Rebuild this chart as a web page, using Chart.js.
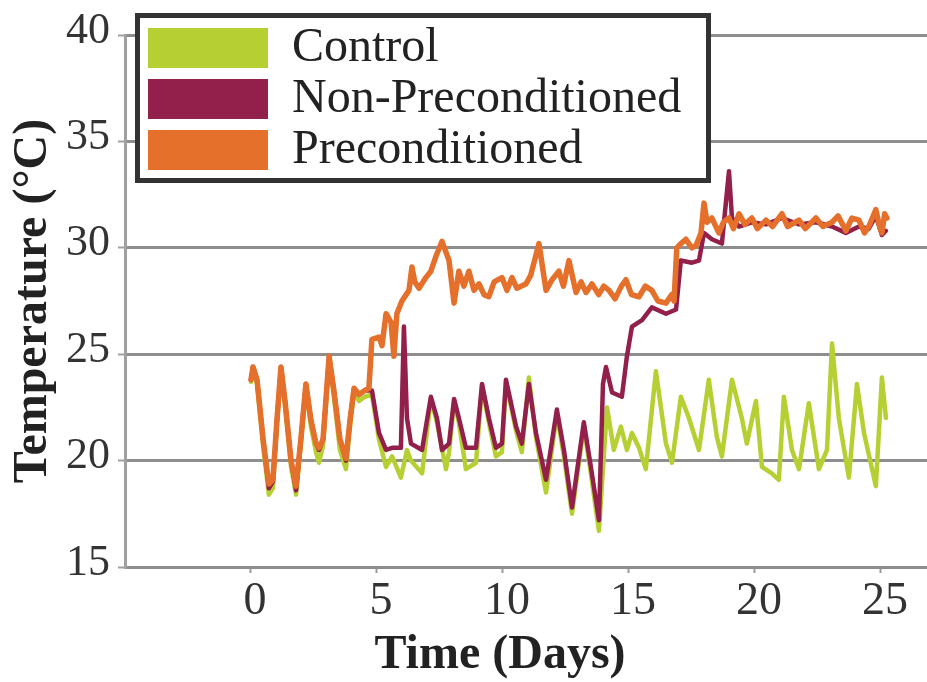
<!DOCTYPE html>
<html>
<head>
<meta charset="utf-8">
<script src="https://cdn.jsdelivr.net/npm/chart.js@4.4.1/dist/chart.umd.min.js"></script>
<style>
  html, body { margin: 0; padding: 0; background: #ffffff; }
  #wrap { width: 927px; height: 682px; }
  canvas { display: block; }
</style>
</head>
<body>
<div id="wrap"><canvas id="chart" width="927" height="682"></canvas></div>
<script>
// ---------------- data ----------------
const seriesNames = ['Control', 'Non-Preconditioned', 'Preconditioned'];
const xTickValues = [0, 5, 10, 15, 20, 25];
const yTickValues = [15, 20, 25, 30, 35, 40];
const xTitle = 'Time (Days)';
const yTitle = 'Temperature (°C)';

const controlDays = [0.00,0.08,0.24,0.48,0.71,0.87,1.03,1.19,1.35,1.59,1.79,1.98,2.18,2.38,2.58,2.70,2.86,3.10,3.29,3.53,3.77,3.93,4.09,4.29,4.52,4.80,5.08,5.36,5.60,5.95,6.19,6.35,6.79,7.14,7.38,7.74,7.86,8.06,8.25,8.53,8.93,9.17,9.44,9.72,9.96,10.12,10.52,10.75,11.03,11.31,11.71,12.14,12.42,12.74,13.21,13.49,13.81,14.13,14.40,14.68,14.92,15.12,15.40,15.67,16.07,16.47,16.71,17.06,17.38,17.78,18.17,18.49,18.69,19.09,19.48,19.68,20.04,20.28,20.67,20.95,21.15,21.47,21.75,22.14,22.54,22.86,23.06,23.33,23.73,24.05,24.33,24.80,25.04,25.20];
const controlTemps = [23.7,24.3,23.6,20.7,18.4,18.7,21.7,24.3,22.6,19.7,18.4,20.8,23.4,21.6,20.4,19.9,20.7,24.7,23.0,20.5,19.6,21.6,23.2,22.8,23.0,23.1,21.0,19.7,20.2,19.2,20.5,20.0,19.4,22.9,21.8,19.6,20.4,22.8,21.8,19.6,19.9,23.5,21.8,20.2,20.4,23.7,21.4,20.4,23.9,21.1,18.5,22.2,20.2,17.5,21.6,19.4,16.7,22.5,20.5,21.6,20.5,21.3,20.6,19.6,24.2,20.8,19.9,23.0,22.0,20.5,23.8,21.1,20.2,23.8,22.0,20.8,22.8,19.7,19.4,19.1,23.0,20.5,19.6,22.7,19.6,20.5,25.5,22.0,19.2,23.6,21.3,18.8,23.9,22.0];

const nonPreDays = [0.00,0.08,0.24,0.48,0.71,0.87,1.03,1.19,1.35,1.59,1.79,1.98,2.18,2.38,2.58,2.70,2.86,3.10,3.29,3.53,3.77,3.93,4.09,4.29,4.52,4.80,5.08,5.36,5.60,5.95,6.07,6.19,6.35,6.79,7.14,7.38,7.58,7.86,8.06,8.25,8.53,8.93,9.17,9.44,9.72,9.96,10.12,10.52,10.75,11.03,11.31,11.71,12.14,12.42,12.74,13.21,13.49,13.81,13.97,14.09,14.33,14.72,14.92,15.12,15.52,15.91,16.47,16.87,17.06,17.50,17.78,17.98,18.29,18.69,18.97,19.09,19.37,19.88,20.44,21.07,21.75,22.42,23.06,23.61,24.13,24.52,24.80,25.04,25.20];
const nonPreTemps = [23.8,24.4,23.8,21.0,18.7,19.0,21.9,24.4,22.8,20.0,18.6,21.0,23.6,21.9,20.8,20.5,21.0,24.9,23.3,21.0,20.0,21.9,23.4,23.1,23.3,23.3,21.3,20.5,20.6,20.6,26.3,22.0,20.8,20.5,23.0,22.0,20.5,20.8,22.9,22.0,20.6,20.6,23.6,22.0,20.6,20.8,23.8,21.6,20.8,23.6,21.3,19.1,22.4,20.5,17.8,21.8,19.7,17.2,23.6,24.4,23.2,23.0,24.9,26.3,26.6,27.2,26.9,27.1,29.4,29.3,29.4,30.7,30.4,30.2,33.6,31.4,31.0,31.2,31.1,31.4,31.1,31.2,31.0,30.7,31.0,30.9,31.5,30.6,30.8];

const preDays = [0.00,0.08,0.24,0.48,0.71,0.87,1.03,1.19,1.35,1.59,1.79,1.98,2.18,2.38,2.58,2.70,2.86,3.10,3.29,3.53,3.77,3.93,4.09,4.29,4.52,4.68,4.80,5.08,5.20,5.36,5.56,5.67,5.79,5.99,6.27,6.39,6.50,6.67,6.94,7.14,7.34,7.58,7.86,8.06,8.25,8.45,8.65,8.85,9.05,9.25,9.44,9.65,9.96,10.16,10.36,10.55,10.91,11.10,11.43,11.71,11.95,12.22,12.40,12.62,12.90,13.10,13.30,13.53,13.80,14.00,14.21,14.45,14.70,14.88,15.10,15.40,15.65,15.91,16.15,16.47,16.70,16.79,16.90,17.06,17.26,17.50,17.66,17.86,17.98,18.10,18.29,18.57,18.75,18.97,19.15,19.37,19.60,19.88,20.10,20.44,20.70,21.07,21.30,21.75,22.00,22.42,22.70,23.06,23.30,23.61,23.85,24.13,24.35,24.52,24.80,24.95,25.04,25.15,25.24];
const preTemps = [23.8,24.4,23.8,21.0,18.9,19.1,21.9,24.4,22.8,20.0,18.8,21.0,23.6,21.9,20.8,20.6,21.0,24.9,23.3,21.0,20.1,21.9,23.4,23.1,23.3,23.4,25.7,25.8,25.4,26.9,26.5,24.9,26.9,27.5,28.0,29.1,28.4,28.1,28.6,28.9,29.6,30.3,29.4,27.4,28.9,28.2,28.9,28.0,28.3,27.8,27.7,28.4,28.6,28.0,28.6,28.1,28.3,28.7,30.2,28.0,28.5,28.9,28.2,29.4,27.9,28.4,27.9,28.3,27.8,28.2,28.0,27.6,28.2,28.5,27.8,27.7,28.2,28.0,27.5,27.4,27.8,27.5,30.0,30.2,30.4,30.0,30.1,30.7,32.1,31.2,31.4,30.7,31.2,31.4,30.9,31.6,31.1,31.4,30.9,31.3,31.0,31.6,31.0,31.3,30.9,31.4,31.0,31.2,31.5,30.8,31.4,31.3,30.7,31.0,31.8,31.0,30.7,31.6,31.4];

// ---------------- styling ----------------
const SERIF = '"Liberation Serif", "Times New Roman", Times, serif';
const seriesColors = ['#b6cf33', '#931f4b', '#e4702c'];

function toPoints(days, temps) {
  return days.map((d, i) => ({ x: d, y: temps[i] }));
}

// Places the built-in legend and draws its framed white box
const legendFrame = {
  id: 'legendFrame',
  afterLayout(chart, args, opts) {
    const lg = chart.legend;
    if (!lg) return;
    lg.left = opts.left;
    lg.top = opts.top;
    lg.right = opts.left + opts.width;
    lg.bottom = opts.top + opts.height;
  },
  afterDraw(chart, args, opts) {
    const ctx = chart.ctx;
    const f = opts.frame;
    ctx.save();
    ctx.fillStyle = '#ffffff';
    ctx.fillRect(f.left, f.top, f.right - f.left, f.bottom - f.top);
    ctx.lineWidth = f.lineWidth;
    ctx.strokeStyle = f.color;
    const h = f.lineWidth / 2;
    ctx.strokeRect(f.left + h, f.top + h, f.right - f.left - f.lineWidth, f.bottom - f.top - f.lineWidth);
    ctx.restore();
    chart.legend.draw(chart.chartArea);
  }
};

// x-axis title, placed like the reference (left of the plot-area centre)
const xAxisTitle = {
  id: 'xAxisTitle',
  afterDraw(chart, args, opts) {
    const ctx = chart.ctx;
    ctx.save();
    ctx.font = 'bold ' + opts.size + 'px ' + SERIF;
    ctx.fillStyle = opts.color;
    ctx.textAlign = 'center';
    ctx.textBaseline = 'alphabetic';
    ctx.fillText(opts.text, opts.x, opts.baseline);
    ctx.restore();
  }
};

const ctx = document.getElementById('chart').getContext('2d');
new Chart(ctx, {
  type: 'line',
  data: {
    datasets: [
      { label: seriesNames[0], data: toPoints(controlDays, controlTemps), borderColor: seriesColors[0], backgroundColor: seriesColors[0], borderWidth: 4.5, order: 2 },
      { label: seriesNames[1], data: toPoints(nonPreDays, nonPreTemps), borderColor: seriesColors[1], backgroundColor: seriesColors[1], borderWidth: 4.5, order: 1 },
      { label: seriesNames[2], data: toPoints(preDays, preTemps), borderColor: seriesColors[2], backgroundColor: seriesColors[2], borderWidth: 5.5, order: 0 }
    ]
  },
  options: {
    responsive: false,
    animation: false,
    devicePixelRatio: 1,
    elements: {
      point: { radius: 0, hoverRadius: 0 },
      line: { tension: 0, borderJoinStyle: 'round', borderCapStyle: 'round' }
    },
    layout: { padding: { left: 0, top: 35, right: 0, bottom: 0 } },
    scales: {
      x: {
        type: 'linear',
        min: -5,
        max: 26.83,
        afterBuildTicks: (s) => { s.ticks = xTickValues.map(v => ({ value: v })); },
        afterFit: (s) => { s.height = 115; },
        grid: { drawOnChartArea: false, drawTicks: true, tickLength: 6, color: '#9a9a9a', tickColor: '#9a9a9a', tickWidth: 2 },
        border: { display: true, color: '#8e8e8e', width: 3 },
        ticks: { font: { family: SERIF, size: 46 }, color: '#333333', padding: 1, labelOffset: 4, maxRotation: 0, autoSkip: false },
        title: { display: false }
      },
      y: {
        type: 'linear',
        min: 15,
        max: 40,
        afterBuildTicks: (s) => { s.ticks = yTickValues.map(v => ({ value: v })); },
        afterFit: (s) => { s.width = 125; },
        grid: { color: '#8e8e8e', lineWidth: 3, drawTicks: true, tickLength: 7, tickColor: '#a0a0a0', tickWidth: 2 },
        border: { display: true, color: '#a0a0a0', width: 3 },
        ticks: { font: { family: SERIF, size: 44 }, color: '#333333', padding: 8, labelOffset: -4 },
        title: { display: true, text: yTitle, font: { family: SERIF, size: 48, weight: 'bold' }, color: '#222222', padding: { top: 5, bottom: 0 } }
      }
    },
    plugins: {
      tooltip: { enabled: false },
      legend: {
        display: true,
        position: 'chartArea',
        align: 'start',
        labels: {
          boxWidth: 120,
          boxHeight: 40,
          padding: 3,
          color: '#222222',
          font: { family: SERIF, size: 48 },
          sort: (a, b) => a.datasetIndex - b.datasetIndex,
          generateLabels: (chart) => {
            const items = Chart.defaults.plugins.legend.labels.generateLabels(chart);
            items.forEach(it => { it.lineWidth = 0; it.fillStyle = it.strokeStyle; });
            return items;
          }
        }
      },
      legendFrame: {
        left: 145, top: 21, width: 566, height: 170,
        frame: { left: 135, top: 13, right: 711, bottom: 183, lineWidth: 5, color: '#333333' }
      },
      xAxisTitle: { text: xTitle, x: 500, baseline: 668, size: 48, color: '#222222' }
    }
  },
  plugins: [legendFrame, xAxisTitle]
});
</script>
</body>
</html>
